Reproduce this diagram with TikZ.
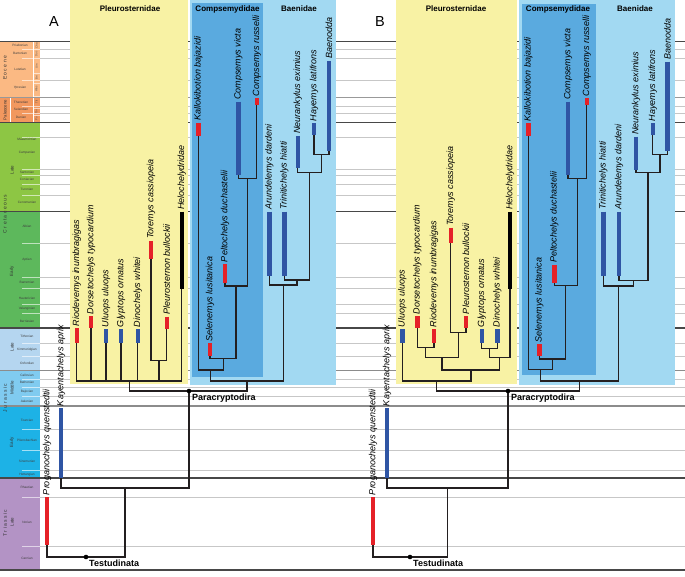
\documentclass[tikz,border=0pt]{standalone}
\usepackage{fontspec}
\setmainfont{Liberation Sans}
\usetikzlibrary{calc}
\definecolor{barred}{HTML}{E52128}
\definecolor{barblue}{HTML}{2F55A4}
\definecolor{pyel}{HTML}{F8F2A4}
\definecolor{lblue}{HTML}{A2D9F2}
\definecolor{mblue}{HTML}{5AAADF}
\definecolor{eoc}{HTML}{FBB983}
\definecolor{pal}{HTML}{F2985F}
\definecolor{lk}{HTML}{8DC644}
\definecolor{ek}{HTML}{5DB85C}
\definecolor{lj}{HTML}{B5D6F0}
\definecolor{mj}{HTML}{80CBF0}
\definecolor{ej}{HTML}{1DB2E6}
\definecolor{lt}{HTML}{B393C5}
\definecolor{brc}{HTML}{231F20}
\newcommand\mytaxon[6]{%
  \coordinate (#1t) at (#2,#3);
  \coordinate (#1) at (#2,#4);
  \draw[#5] (#1t) -- (#1);
  \node[tx] (#1l) at (#2,#3-1.2) {#6};}
\newcommand\myjoin[5]{%
  \coordinate (#1) at (#2,#3);
  \draw[br] (#4) |- (#1) -| (#5);}
\begin{document}
\begin{tikzpicture}[x=1pt,y=-1pt,
  br/.style={line width=1.2pt,draw=brc},
  redbar/.style={line width=4.4pt,draw=barred},
  bluebar/.style={line width=4.4pt,draw=barblue},
  blackbar/.style={line width=4.4pt,draw=black},
  tx/.style={rotate=90,anchor=west,inner sep=0.6pt,font=\fontsize{9}{10}\selectfont\itshape},
  clade/.style={font=\fontsize{8}{9}\selectfont\bfseries,inner sep=0pt},
  big/.style={font=\fontsize{14.5}{16}\selectfont,inner sep=0pt},
  lab/.style={font=\fontsize{9}{10}\selectfont\bfseries,inner sep=0pt,anchor=north west},
  dot/.style={circle,fill=black,inner sep=0pt,minimum size=4.6pt},
  gl/.style={draw=black!22,line width=0.7pt},
  gin/.style={draw=white,opacity=0.6,line width=0.5pt},
  gm/.style={draw=black!45,line width=1.1pt},
  gd/.style={draw=black!72,line width=1.1pt},
  stg/.style={font=\fontsize{3.2}{3.6}\selectfont,text=black!75,inner sep=0pt},
  per/.style={font=\fontsize{5}{6}\selectfont,text=black!80,inner sep=0pt,rotate=90},
  nal/.style={font=\fontsize{2.8}{3}\selectfont,text=black!70,inner sep=0pt,rotate=90}]
\useasboundingbox (0,0) rectangle (685,577);
\fill[white] (0,0) rectangle (685,577);
% ---------- stratigraphic column ----------
\fill[eoc] (0,41.7) rectangle (40,97.5);
\fill[pal] (0,97.5) rectangle (40,122.5);
\fill[lk] (0,122.5) rectangle (40,211.7);
\fill[ek] (0,211.7) rectangle (40,328);
\fill[lj] (0,328) rectangle (40,370.5);
\fill[mj] (0,370.5) rectangle (40,406);
\fill[ej] (0,406) rectangle (40,478);
\fill[lt] (0,478) rectangle (40,570);
\draw[white,line width=0.4pt] (33,41.7) -- (33,122.5);
\draw[white,line width=0.4pt] (10,97.5) -- (10,122.5);
\foreach \y in {49.5,58,80,106,113,137,169,175.5,184,195,243,277,288,304,313,343,356.5,379,387,396,429,450,470,497,546}{
  \draw[gl] (40,\y) -- (685,\y);
  \draw[gin] (22,\y) -- (40,\y);}
\foreach \y in {73,83,96,108.5,115.5}{\draw[gin] (33,\y) -- (40,\y);}
\draw[draw=black!40,line width=1.5pt] (0,97.5) -- (685,97.5);
\foreach \y in {370.5,406}{\draw[gm] (0,\y) -- (685,\y);}
\foreach \y in {41.7,122.5,211.7,328,478,570}{\draw[gd] (0,\y) -- (685,\y);}
% stage names
\foreach \n/\x/\y in {Priabonian/20/45.5,Bartonian/20/53.5,Lutetian/20/69,Ypresian/20/88,
  Thanetian/21/102,Selandian/21/109.5,Danian/21/117.5,
  Maastrichtian/27/139,Campanian/27/153,Santonian/27/172,Coniacian/27/179.5,Turonian/27/189,Cenomanian/27/202,
  Albian/27/226,Aptian/27/260,Barremian/27/282,Hauterivian/27/298,Valanginian/27/309,Berriasian/27/321,
  Tithonian/27/336,Kimmeridgian/27/350,Oxfordian/27/363,
  Callovian/27/375,Bathonian/27/382,Bajocian/27/391.5,Aalenian/27/401.5,
  Toarcian/27/420,Pliensbachian/27/440,Sinemurian/27/461.5,Hettangian/27/474.5,
  Rhaetian/27/487,Norian/27/522,Carnian/27/558}
  {\node[stg] (s\n) at (\x,\y) {\n};}
\foreach \n/\y in {Cha/46,Duc/54,Uin/66,Bri/78,Was/89,Tif/102,Tor/112,Pu/119}
  {\node[nal] (n\n) at (36.5,\y) {\n};}
\node[per] (pEoc) at (5,68) {E o c e n e};
\node[per,font=\fontsize{4.3}{5}\selectfont] (pPal) at (5,110) {Paleocene};
\node[per] (pCre) at (5,214) {C r e t a c e o u s};
\node[per] (pJur) at (5,398) {J u r a s s i c};
\node[per] (pTri) at (5,523) {T r i a s s i c};
\node[per,font=\fontsize{4.5}{5}\selectfont] (eLK) at (12,170) {Late};
\node[per,font=\fontsize{4.5}{5}\selectfont] (eEK) at (12,271) {Early};
\node[per,font=\fontsize{4.5}{5}\selectfont] (eLJ) at (12,347) {Late};
\node[per,font=\fontsize{4.5}{5}\selectfont] (eMJ) at (12,388) {Middle};
\node[per,font=\fontsize{4.5}{5}\selectfont] (eEJ) at (12,442) {Early};
\node[per,font=\fontsize{4.5}{5}\selectfont] (eLT) at (12,522) {Late};
% ---------- clade boxes ----------
\fill[pyel] (70,0) rectangle (188,384);
\fill[lblue] (190,0) rectangle (336,385);
\fill[mblue] (192,3) rectangle (263,377);
\fill[pyel] (396,0) rectangle (517,384);
\fill[lblue] (518.5,0) rectangle (674.5,385);
\fill[mblue] (521.7,4) rectangle (596,375);
\node[big] (lA) at (54,22) {A};
\node[big] (lB) at (380,22) {B};
\node[clade] (cA1) at (130,9) {Pleurosternidae};
\node[clade] (cA2) at (227.5,9) {Compsemydidae};
\node[clade] (cA3) at (299,9) {Baenidae};
\node[clade] (cB1) at (456,9) {Pleurosternidae};
\node[clade] (cB2) at (558,9) {Compsemydidae};
\node[clade] (cB3) at (635,9) {Baenidae};
% ---------- panel A ----------
\mytaxon{Ario}{76.7}{328}{343}{redbar}{Riodevemys inumbragigas}
\mytaxon{Ador}{91}{316}{328}{redbar}{Dorsetochelys typocardium}
\mytaxon{Aulu}{106}{329}{343}{bluebar}{Uluops uluops}
\mytaxon{Agly}{121}{329}{343}{bluebar}{Glyptops ornatus}
\mytaxon{Adin}{137.7}{329}{343}{bluebar}{Dinochelys whitei}
\mytaxon{Ator}{151}{241}{259}{redbar}{Toremys cassiopeia}
\mytaxon{Aple}{166.7}{316.7}{329}{redbar}{Pleurosternon bullockii}
\mytaxon{Ahel}{181.7}{211.7}{289}{blackbar}{Helochelydridae}
\mytaxon{Akal}{198.3}{123}{136}{redbar}{Kallokibotion bajazidi}
\mytaxon{Asel}{210}{343.3}{356}{redbar}{Selenemys lusitanica}
\mytaxon{Apel}{225}{264}{282.7}{redbar}{Peltochelys duchastelii}
\mytaxon{Acvi}{238.3}{101.7}{175}{bluebar}{Compsemys victa}
\mytaxon{Acru}{256.7}{98.3}{105}{redbar}{Compsemys russelli}
\mytaxon{Aaru}{269.3}{211.7}{276}{bluebar}{Arundelemys dardeni}
\mytaxon{Atri}{284.3}{211.7}{276}{bluebar}{Trinitichelys hiatti}
\mytaxon{Aneu}{297.7}{136}{168.3}{bluebar}{Neurankylus eximius}
\mytaxon{Ahay}{314}{123.3}{135}{bluebar}{Hayemys latifrons}
\mytaxon{Abae}{329}{61}{150.7}{bluebar}{Baenodda}
\mytaxon{Akay}{61}{408}{478}{bluebar}{Kayentachelys aprix}
\mytaxon{Apro}{47}{497}{545}{redbar}{Proganochelys quenstedtii}
\myjoin{AJtp}{159}{360.3}{Ator}{Aple}
\myjoin{AJpl}{129.3}{381}{Ario}{Ahel}
\foreach \c in {Ador,Aulu,Agly,Adin,AJtp}{\draw[br] (\c) -- (\c |- AJpl);}
\myjoin{AJcomp}{247.5}{178.3}{Acvi}{Acru}
\myjoin{AJpel}{236}{286}{Apel}{AJcomp}
\myjoin{AJsel}{223.2}{358.3}{Asel}{AJpel}
\myjoin{AJkal}{210.7}{370}{Akal}{AJsel}
\myjoin{AJhb}{321.5}{154.3}{Ahay}{Abae}
\myjoin{AJneu}{309.6}{172.7}{Aneu}{AJhb}
\myjoin{AJtri}{297}{280}{Atri}{AJneu}
\myjoin{AJaru}{283.2}{285}{Aaru}{AJtri}
\myjoin{AJbaen}{246.9}{381}{AJkal}{AJaru}
\myjoin{AJpara}{189}{391}{AJpl}{AJbaen}
\myjoin{AJkay}{125}{488}{Akay}{AJpara}
\myjoin{AJtest}{86}{557}{Apro}{AJkay}
\node[dot] (dApara) at (AJpara) {};
\node[dot] (dAtest) at (AJtest) {};
\node[lab] (nApara) at ($(AJpara)+(3,3)$) {Paracryptodira};
\node[lab] (nAtest) at ($(AJtest)+(3,3)$) {Testudinata};
% ---------- panel B ----------
\mytaxon{Bulu}{402.3}{329}{343.3}{bluebar}{Uluops uluops}
\mytaxon{Bdor}{417.3}{316}{328.3}{redbar}{Dorsetochelys typocardium}
\mytaxon{Brio}{434}{329}{343.3}{redbar}{Riodevemys inumbragigas}
\mytaxon{Btor}{450.7}{227.7}{243.3}{redbar}{Toremys cassiopeia}
\mytaxon{Bple}{466}{316}{328.3}{redbar}{Pleurosternon bullockii}
\mytaxon{Bgly}{481.7}{329}{343.3}{bluebar}{Glyptops ornatus}
\mytaxon{Bdin}{497.3}{329}{343.3}{bluebar}{Dinochelys whitei}
\mytaxon{Bhel}{510}{211.7}{289.3}{blackbar}{Helochelydridae}
\mytaxon{Bkal}{528.3}{123.3}{136}{redbar}{Kallokibotion bajazidi}
\mytaxon{Bsel}{539.3}{344.3}{356}{redbar}{Selenemys lusitanica}
\mytaxon{Bpel}{554.3}{265}{283.3}{redbar}{Peltochelys duchastelii}
\mytaxon{Bcvi}{568}{101.7}{175}{bluebar}{Compsemys victa}
\mytaxon{Bcru}{586.7}{98.3}{105}{redbar}{Compsemys russelli}
\mytaxon{Btri}{603.3}{211.7}{276}{bluebar}{Trinitichelys hiatti}
\mytaxon{Baru}{619}{211.7}{276}{bluebar}{Arundelemys dardeni}
\mytaxon{Bneu}{636}{136.7}{170}{bluebar}{Neurankylus eximius}
\mytaxon{Bhay}{652.7}{123.3}{135}{bluebar}{Hayemys latifrons}
\mytaxon{Bbae}{667.3}{61.7}{150.7}{bluebar}{Baenodda}
\mytaxon{Bkay}{387}{408}{478}{bluebar}{Kayentachelys aprix}
\mytaxon{Bpro}{373}{497}{545}{redbar}{Proganochelys quenstedtii}
\myjoin{BJdr}{425.7}{347.7}{Bdor}{Brio}
\myjoin{BJtp}{458.3}{332.3}{Btor}{Bple}
\myjoin{BJdrtp}{442}{357.7}{BJdr}{BJtp}
\myjoin{BJgd}{489.5}{348.3}{Bgly}{Bdin}
\myjoin{BJgdh}{499.8}{357.7}{BJgd}{Bhel}
\myjoin{BJ2}{471}{370}{BJdrtp}{BJgdh}
\myjoin{BJpl}{436.7}{381}{Bulu}{BJ2}
\myjoin{BJcomp}{577.3}{178.3}{Bcvi}{Bcru}
\myjoin{BJpel}{565.8}{285.7}{Bpel}{BJcomp}
\myjoin{BJsel}{552.5}{359}{Bsel}{BJpel}
\myjoin{BJkal}{540.4}{369.3}{Bkal}{BJsel}
\myjoin{BJhb}{660}{154.3}{Bhay}{Bbae}
\myjoin{BJneu}{648}{172.7}{Bneu}{BJhb}
\myjoin{BJaru}{633.5}{280.7}{Baru}{BJneu}
\myjoin{BJtri}{618.4}{286}{Btri}{BJaru}
\myjoin{BJbaen}{579.4}{381}{BJkal}{BJtri}
\myjoin{BJpara}{508}{391}{BJpl}{BJbaen}
\myjoin{BJkay}{447.5}{488}{Bkay}{BJpara}
\myjoin{BJtest}{410}{557}{Bpro}{BJkay}
\node[dot] (dBpara) at (BJpara) {};
\node[dot] (dBtest) at (BJtest) {};
\node[lab] (nBpara) at ($(BJpara)+(3,3)$) {Paracryptodira};
\node[lab] (nBtest) at ($(BJtest)+(3,3)$) {Testudinata};
\end{tikzpicture}
\end{document}
